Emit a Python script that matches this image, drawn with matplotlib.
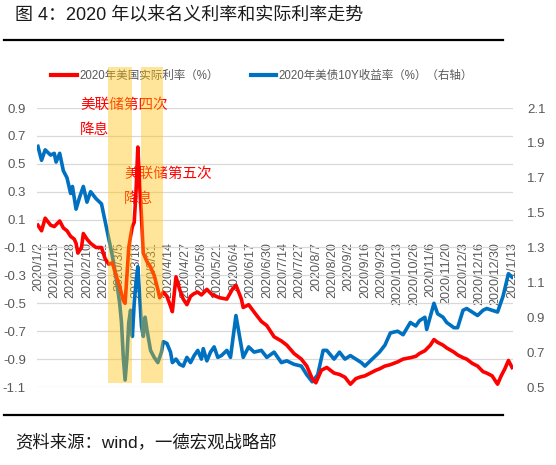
"""2020 年以来名义利率和实际利率走势 — red real rate (left) vs blue 10Y yield (right)."""
import numpy as np
import matplotlib
matplotlib.use('Agg')
import matplotlib.pyplot as plt
from matplotlib.patches import Rectangle
from matplotlib.lines import Line2D

plt.rcParams['font.family'] = ['Liberation Sans', 'Noto Sans CJK SC', 'DejaVu Sans']

W, H = 556, 465
RED = '#FF0000'
BLUE = '#0070C0'
GOLD = '#FFC000'
GRID = '#D9D9D9'
TICK = '#595959'

# trading-day labels, one every 9 sessions
x_labels = ['2020/1/2', '2020/1/15', '2020/1/28', '2020/2/10', '2020/2/21',
            '2020/3/5', '2020/3/18', '2020/3/31', '2020/4/14', '2020/4/27',
            '2020/5/8', '2020/5/21', '2020/6/4', '2020/6/17', '2020/6/30',
            '2020/7/14', '2020/7/27', '2020/8/7', '2020/8/20', '2020/9/2',
            '2020/9/16', '2020/9/29', '2020/10/13', '2020/10/26', '2020/11/6',
            '2020/11/20', '2020/12/3', '2020/12/16', '2020/12/30', '2021/1/13']
label_step = 9

# 2020年美国实际利率（%） — session index / value
real_idx = [0, 2, 4, 7, 9, 12, 14, 16, 18, 20, 21, 22, 24, 25, 27, 29, 32, 35,
            37, 39, 41, 43, 45, 47, 48, 49, 50, 51, 52, 53, 54, 55, 56, 57, 58,
            60, 62, 64, 66, 67, 69, 71, 73, 74, 76, 78, 80, 82, 84, 86, 88, 90,
            93, 96, 100, 104, 107, 109, 112, 113, 116, 120, 123, 126, 130, 134,
            137, 141, 145, 148, 151, 153, 156, 159, 163, 166, 169, 172, 175, 177,
            180, 183, 186, 188, 191, 194, 198, 201, 205, 208, 210, 213, 216, 218,
            220, 223, 225, 229, 231, 234, 236, 239, 242, 245, 247, 250, 252, 253,
            255, 257, 259, 261]
real_rate = [0.06, 0.02, 0.11, 0.06, 0.05, 0.09, 0.04, 0.02, -0.02, -0.04, -0.07,
             -0.14, -0.10, 0.00, -0.04, -0.07, -0.10, -0.10,
             -0.18, -0.22, -0.21, -0.30, -0.38, -0.48, -0.50, -0.30, -0.10, -0.02,
             0.05, 0.08, 0.30, 0.62, 0.35, 0.12, -0.14,
             -0.20, -0.24, -0.30, -0.40, -0.46, -0.42, -0.45, -0.52, -0.56, -0.31,
             -0.40, -0.47, -0.51, -0.45, -0.43, -0.42, -0.44,
             -0.40, -0.44, -0.46, -0.47, -0.40, -0.37, -0.47, -0.53, -0.51, -0.58,
             -0.63, -0.66, -0.74, -0.77,
             -0.80, -0.86, -0.90, -0.95, -1.04, -1.07, -0.98, -0.96, -1.00, -1.01,
             -1.03, -1.08, -1.04, -1.03,
             -1.02, -1.00, -0.98, -0.97, -0.95, -0.94, -0.92, -0.90, -0.89, -0.88,
             -0.86, -0.84, -0.80, -0.76,
             -0.78, -0.80, -0.82, -0.85, -0.87, -0.89, -0.90, -0.93, -0.95, -0.99,
             -1.00, -1.02, -1.06, -1.08,
             -1.02, -0.97, -0.91, -0.96]

# 2020年美债10Y收益率（%）（右轴）
nom_idx = [0, 2, 4, 7, 9, 10, 12, 14, 16, 18, 19, 21, 23, 25, 27, 29, 32, 35,
           37, 39, 41, 43, 45, 46, 47, 48, 49, 50, 51, 52, 53, 54, 55, 56, 57, 58,
           59, 60, 62, 64, 66, 68, 69, 71, 73, 74, 76, 78, 80, 82, 84, 86, 88, 90,
           91, 93, 95, 97, 99, 101, 104, 106, 109, 111, 113, 116, 119, 123, 126,
           130, 134, 137, 141, 145, 148, 151, 154, 157, 159, 163, 166, 169, 172,
           175, 178, 180, 183, 186, 188, 191, 194, 198, 201, 205, 208, 210, 213,
           214, 218, 220, 223, 225, 229, 231, 234, 236, 239, 242, 245, 247, 250,
           253, 256, 259, 261]
nom_yield = [1.88, 1.80, 1.86, 1.83, 1.84, 1.79, 1.84, 1.74, 1.70, 1.61, 1.65,
             1.52, 1.59, 1.65, 1.56, 1.62, 1.58, 1.55,
             1.45, 1.35, 1.25, 1.13, 0.98, 0.87, 0.67, 0.54, 0.67, 0.87, 0.94,
             0.79, 0.98, 1.10, 1.19, 1.02, 0.85, 0.79,
             0.90, 0.83, 0.71, 0.67, 0.64, 0.70, 0.76, 0.75, 0.70, 0.64, 0.66,
             0.63, 0.62, 0.67, 0.64, 0.68, 0.71, 0.66,
             0.72, 0.65, 0.70, 0.73, 0.67, 0.68, 0.71, 0.67, 0.91, 0.79, 0.67,
             0.73, 0.70, 0.71, 0.67,
             0.70, 0.64, 0.65, 0.63, 0.62, 0.57, 0.53, 0.57, 0.71, 0.71, 0.66,
             0.70, 0.66, 0.68,
             0.66, 0.64, 0.62, 0.65, 0.68, 0.70, 0.74, 0.81, 0.82, 0.80, 0.87,
             0.85, 0.88, 0.90,
             0.83, 0.98, 0.92, 0.90, 0.87, 0.84, 0.84, 0.94, 0.95, 0.93, 0.91,
             0.94, 0.95, 0.94,
             0.93, 1.02, 1.15, 1.13]

# Fed cut windows (session index span)
cut_windows = [(38.5, 52.0), (56.5, 69.0)]


def px(x, y):
    return x / W, 1 - y / H


def main():
    fig = plt.figure(figsize=(W / 100, H / 100), dpi=100, facecolor='white')
    n = label_step * (len(x_labels) - 1) + 1

    ax = fig.add_axes([37 / W, 1 - 387 / H, 476 / W, 279 / H])
    ax_n = ax.twinx()
    ax_r = ax.twinx()

    ax.set_xlim(-0.5, n - 0.5)
    ax.set_ylim(-1.1, 0.9)
    ax.set_yticks(np.round(np.arange(-1.1, 0.91, 0.2), 1))
    ax.yaxis.set_major_formatter(plt.FormatStrFormatter('%.1f'))
    ax.grid(axis='y', color=GRID, linewidth=0.9)
    ax.set_axisbelow(True)
    ax.spines['bottom'].set_position(('data', 0))
    for s in ax.spines.values():
        s.set_visible(False)
    ax.set_xticks(np.arange(0, n, label_step))
    ax.set_xticklabels(x_labels, rotation=90, va='top', ha='center')
    ax.tick_params(axis='x', length=0, pad=6, labelsize=9, labelcolor=TICK)
    ax.tick_params(axis='y', length=0, pad=8, labelsize=9.5, labelcolor=TICK)

    ax_n.set_ylim(0.5, 2.1)
    ax_n.set_yticks(np.round(np.arange(0.5, 2.11, 0.2), 1))
    ax_n.yaxis.set_major_formatter(plt.FormatStrFormatter('%.1f'))
    ax_n.tick_params(axis='y', length=0, pad=10, labelsize=9.5, labelcolor=TICK)
    for s in ax_n.spines.values():
        s.set_visible(False)
    ax_n.plot(nom_idx, nom_yield, color=BLUE, linewidth=2.6,
              solid_joinstyle='round')

    ax_r.set_ylim(ax.get_ylim())
    ax_r.set_yticks([])
    for s in ax_r.spines.values():
        s.set_visible(False)
    ax_r.plot(real_idx, real_rate, color=RED, linewidth=2.6,
              solid_joinstyle='round')

    # gold highlight bands, over the lines and into the legend row
    fig.canvas.draw()
    to_fig = fig.transFigure.inverted()
    top_fig = 1 - 67 / H
    bot_fig = 1 - 383 / H
    for a, b in cut_windows:
        x0 = to_fig.transform(ax.transData.transform((a, 0)))[0]
        x1 = to_fig.transform(ax.transData.transform((b, 0)))[0]
        fig.add_artist(Rectangle((x0, bot_fig), x1 - x0, top_fig - bot_fig,
                                 transform=fig.transFigure, facecolor=GOLD,
                                 edgecolor='none', alpha=0.4, zorder=6))

    handles = [Line2D([], [], color=RED, linewidth=3),
               Line2D([], [], color=BLUE, linewidth=3)]
    fig.legend(handles, ['2020年美国实际利率（%）', '2020年美债10Y收益率（%）（右轴）'],
               ncol=2, loc='center', bbox_to_anchor=px(262, 76),
               frameon=False, fontsize=8.3, labelcolor=TICK,
               handlelength=2.2, handletextpad=0.2, columnspacing=2.8)

    fig.text(*px(80, 98), '美联储第四次\n降息', color=RED, fontsize=10.5,
             ha='left', va='top', linespacing=2.0, zorder=2)
    fig.text(*px(124, 167), '美联储第五次\n降息', color=RED, fontsize=10.5,
             ha='left', va='top', linespacing=2.0, zorder=2)

    fig.text(*px(15, 16), '图 4：2020 年以来名义利率和实际利率走势',
             fontsize=13, color='#1A1A1A', ha='left', va='center')
    fig.add_artist(Line2D([4 / W, 503 / W], [1 - 40 / H] * 2,
                          color='black', linewidth=1.6))
    fig.add_artist(Line2D([4 / W, 503 / W], [1 - 415 / H] * 2,
                          color='black', linewidth=1.6))
    fig.text(*px(15, 442), '资料来源：wind，一德宏观战略部',
             fontsize=12.5, color='#1A1A1A', ha='left', va='center')

    fig.savefig('out.png', dpi=100, facecolor='white')


if __name__ == '__main__':
    main()
